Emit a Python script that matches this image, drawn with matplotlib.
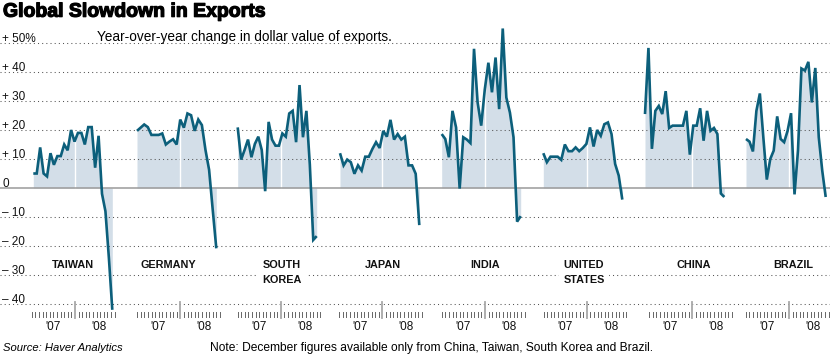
import numpy as np
import matplotlib
matplotlib.use("Agg")
import matplotlib.pyplot as plt
import matplotlib.patheffects as pe

# ---------------- data (percent change, year over year) ----------------
countries = ["TAIWAN", "GERMANY", "SOUTH\nKOREA", "JAPAN", "INDIA",
             "UNITED\nSTATES", "CHINA", "BRAZIL"]

taiwan = [5, 5, 14, 5, 4, 12, 8, 11, 11, 15, 13, 20,
          16, 19, 19, 15, 21, 21, 7, 18, -2, -8, -24, -42]
germany = [19.7, 20.8, 21.9, 21, 18.3, 18.3, 18.3, 18.8, 15, 16, 16.8, 15,
           23.6, 20.8, 25.7, 25.1, 19.7, 23.6, 21.7, 13.1, 6.3, -7.4, -20.8]
south_korea = [20.9, 9.8, 13.1, 16.7, 10.6, 15.2, 17.7, 13.1, -1.1, 22.8, 16.7, 14.6,
               14.6, 18.8, 17.7, 25.7, 26.6, 15.8, 35.5, 17.5, 26.6, 8, -17.9, -16.6]
japan = [12, 7.8, 9.8, 8.9, 4.9, 7.8, 6, 10.8, 10.8, 13.5, 15.8, 13.8,
         19.7, 17.7, 23.5, 16.7, 18.6, 16.7, 17.7, 7.8, 7.8, 4.9, -12.8]
india = [18.6, 16.9, 10.6, 26.6, 20.9, -0.2, 17.5, 16.7, 15.5, 48, 29.5, 21.5,
         34, 43.2, 33, 45, 27.2, 55, 31.2, 26, 17.5, -11.6, -9.7]
united_states = [12, 8.9, 10.8, 10.8, 10.8, 9.7, 15, 12.7, 12.7, 14, 12.7, 13.8,
                 15.2, 20.9, 14.3, 20, 18, 22, 22.6, 18.6, 8.3, 4.3, -4]
china = [25.5, 48.3, 13.5, 26.6, 28.3, 25.5, 33.4, 20.7, 21.5, 21.5, 21.5, 21.5,
         26.6, 11.5, 21.5, 21.5, 27.5, 16.3, 26.6, 19.7, 20.7, 18.6, -1.9, -3.1]
brazil = [16.9, 16, 12.6, 26.6, 32.6, 17.5, 2.9, 10, 12.9, 24.7, 16.9, 15.8,
          19.7, 25.8, -2.2, 12.9, 41.2, 40.5, 43.5, 29.5, 41.4, 17.5, 6, -3.1]
series = [taiwan, germany, south_korea, japan, india, united_states, china, brazil]

grid_values = [50, 40, 30, 20, 10, -10, -20, -30, -40]
grid_labels = ["+ 50%", "+ 40", "+ 30", "+ 20", "+ 10", "0", "– 10", "– 20", "– 30", "– 40"]
label_values = [50, 40, 30, 20, 10, 0, -10, -20, -30, -40]
year_labels = ["'07", "'08"]

# ---------------- layout (pixel units of the 830x355 canvas) ----------------
W, H = 830, 355
ZERO_PY, PX_PER_UNIT = 188.0, 2.9
panel_x0 = [33.3, 137, 237.7, 340, 441.7, 543.3, 645, 746]
panel_x1 = [112.3, 216.3, 316.7, 419.3, 520.7, 622.3, 724.3, 825.7]
year_split = [75, 180.3, 280.7, 382.3, 485, 586.7, 692.3, 789]
name_x = [73, 168, 282, 383, 485, 584, 694, 793]
MONTH_PX = 3.6
NAME_BASE_PY, NAME_LINE_PX = 268.5, 14.3

LINE = "#0c5f7b"
FILL = "#d3dee8"
FONT = "Liberation Sans"


def v(py):
    """pixel row -> data value"""
    return (ZERO_PY - py) / PX_PER_UNIT


fig = plt.figure(figsize=(W / 100, H / 100), dpi=100)
ax = fig.add_axes([0, 0, 1, 1])
ax.set_xlim(0, W)
ax.set_ylim(v(H), v(0))
ax.axis("off")

# gridlines
for g in grid_values:
    ax.plot([0, W], [g, g], color="#555555", lw=0.75, linestyle=(0, (1, 3)),
            zorder=2, solid_capstyle="butt")
ax.plot([0, W], [0, 0], color="#9a9a9a", lw=1.1, zorder=3)

# y labels
for lv, lt in zip(label_values, grid_labels):
    ax.text(2, lv + 0.5, lt, fontsize=8.5, family=FONT, ha="left", va="baseline",
            color="#111111", zorder=4)

# panels
for vals, x0, x1, xs, nx, name in zip(series, panel_x0, panel_x1, year_split,
                                      name_x, countries):
    vals = np.asarray(vals, dtype=float)
    x = np.linspace(x0, x1, len(vals))
    ax.fill_between(x, vals, 0, color=FILL, lw=0, zorder=1)
    top = np.interp(xs, x, vals)
    ax.plot([xs, xs], [0, top], color="white", lw=1.0, zorder=2.5)
    ax.plot(x, vals, color=LINE, lw=1.9, zorder=6, solid_joinstyle="miter",
            solid_capstyle="butt")
    for i, part in enumerate(name.split("\n")):
        ax.text(nx, v(NAME_BASE_PY + i * NAME_LINE_PX), part, fontsize=7.8,
                family=FONT, fontweight="bold", ha="center", va="baseline",
                color="#111111", zorder=5,
                bbox=dict(boxstyle="square,pad=0.4", fc="white", ec="none"))
    # month ticks
    for j in range(24):
        tx = xs + (j - 12) * MONTH_PX
        if j == 12:
            ax.plot([tx, tx], [v(302), v(318)], color="#a8a8a8", lw=1.3, zorder=3)
        else:
            ax.plot([tx, tx], [v(312), v(317)], color="#666666", lw=0.7, zorder=3)
    ax.text(xs - 22, v(330), year_labels[0], fontsize=8.5, family=FONT,
            ha="center", va="baseline", color="#111111")
    ax.text(xs + 24, v(330), year_labels[1], fontsize=8.5, family=FONT,
            ha="center", va="baseline", color="#111111")

# titles and notes
fig.text(3 / W, 1 - 16.7 / H, "Global Slowdown in Exports", fontsize=14,
         family=FONT, fontweight="bold", ha="left", va="baseline",
         path_effects=[pe.withStroke(linewidth=0.9, foreground="black")])
fig.text(97 / W, 1 - 41 / H, "Year-over-year change in dollar value of exports.",
         fontsize=9.8, family=FONT, ha="left", va="baseline")
fig.text(3 / W, 1 - 351 / H, "Source: Haver Analytics", fontsize=8.1,
         family=FONT, style="italic", ha="left", va="baseline")
fig.text(210 / W, 1 - 351 / H,
         "Note: December figures available only from China, Taiwan, South Korea and Brazil.",
         fontsize=8.65, family=FONT, ha="left", va="baseline")

fig.savefig("out.png", dpi=100)
